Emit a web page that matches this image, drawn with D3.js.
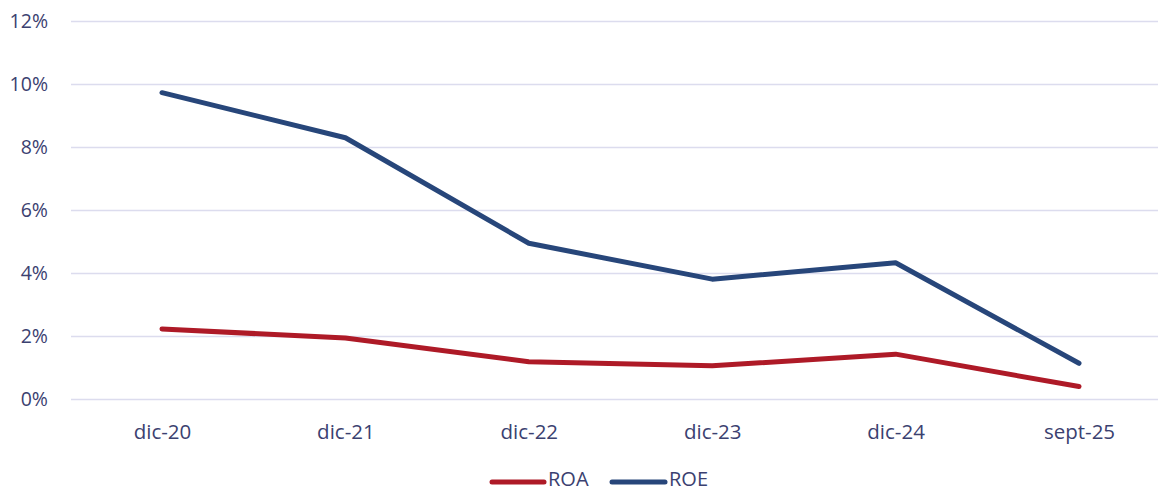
<!DOCTYPE html>
<html>
<head>
<meta charset="utf-8">
<script src="https://cdn.jsdelivr.net/npm/d3@7"></script>
<style>
  html, body { margin: 0; padding: 0; background: #fff; }
  svg { display: block; font-family: "Open Sans", "Noto Sans", sans-serif; }
</style>
</head>
<body>
<svg id="chart" width="1159" height="491"></svg>
<script>
const categories = ["dic-20", "dic-21", "dic-22", "dic-23", "dic-24", "sept-25"];
const roa = [2.24, 1.95, 1.20, 1.07, 1.44, 0.41];
const roe = [9.74, 8.31, 4.96, 3.82, 4.34, 1.15];
const yTicks = [0, 2, 4, 6, 8, 10, 12];

const series = [
  { name: "ROA", values: roa, color: "#AE1A27" },
  { name: "ROE", values: roe, color: "#27467A" }
];

const textColor = "#3B4170";
const gridColor = "#DCDCEE";

const svg = d3.select("#chart");

const x = d3.scalePoint().domain(categories).range([162, 1079]);
const y = d3.scaleLinear().domain([0, 12]).range([399.5, 21.5]);
const gridLeft = 71, gridRight = 1158;

// horizontal gridlines
svg.append("g")
  .selectAll("line")
  .data(yTicks)
  .join("line")
  .attr("x1", gridLeft)
  .attr("x2", gridRight)
  .attr("y1", d => y(d))
  .attr("y2", d => y(d))
  .attr("stroke", gridColor)
  .attr("stroke-width", 1.5);

// y axis labels
const yAxis = d3.axisLeft(y).tickValues(yTicks).tickFormat(d => d + "%").tickSize(0).tickPadding(0);
const gy = svg.append("g").attr("transform", "translate(48,0)").call(yAxis);
gy.select(".domain").remove();
gy.selectAll("text")
  .attr("fill", textColor)
  .attr("font-size", 19.5)
  .attr("font-family", "'Open Sans', 'Noto Sans', sans-serif");

// x axis labels
const xAxis = d3.axisBottom(x).tickSize(0).tickPadding(0);
const gx = svg.append("g").attr("transform", "translate(0,424.5)").call(xAxis);
gx.select(".domain").remove();
gx.selectAll("text")
  .attr("fill", textColor)
  .attr("font-size", 20.5)
  .attr("font-family", "'Open Sans', 'Noto Sans', sans-serif");

// series lines
const line = d3.line()
  .x((d, i) => x(categories[i]))
  .y(d => y(d));

svg.append("g")
  .selectAll("path")
  .data(series)
  .join("path")
  .attr("d", d => line(d.values))
  .attr("fill", "none")
  .attr("stroke", d => d.color)
  .attr("stroke-width", 5)
  .attr("stroke-linejoin", "round")
  .attr("stroke-linecap", "round");

// legend
const legendItems = [
  { x0: 492, x1: 544, tx: 548 },
  { x0: 612, x1: 665, tx: 669 }
];
const lg = svg.append("g");
series.forEach((s, i) => {
  const p = legendItems[i];
  lg.append("line")
    .attr("x1", p.x0).attr("x2", p.x1)
    .attr("y1", 482).attr("y2", 482)
    .attr("stroke", s.color)
    .attr("stroke-width", 5)
    .attr("stroke-linecap", "round");
  lg.append("text")
    .attr("x", p.tx).attr("y", 485.5)
    .attr("fill", textColor)
    .attr("font-size", 20)
    .text(s.name);
});
</script>
</body>
</html>
